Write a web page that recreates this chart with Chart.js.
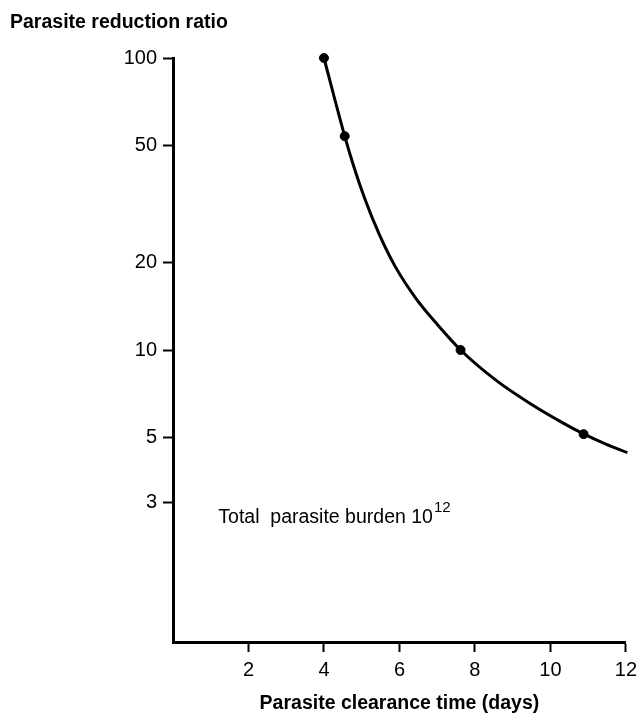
<!DOCTYPE html>
<html>
<head>
<meta charset="utf-8">
<script src="https://cdn.jsdelivr.net/npm/chart.js@4.4.1/dist/chart.umd.min.js"></script>
<style>
  html, body { margin: 0; padding: 0; background: #fff; }
  canvas { display: block; }
</style>
</head>
<body>
<canvas id="chart" width="643" height="715"></canvas>
<script>
// measured points: clearance time (days) vs reduction ratio
const measuredDays = [4, 4.55, 7.62, 10.88];
const measuredRatio = [100, 54, 10, 5.15];

// the fitted curve, read along its length
const curveDays = [4, 4.55, 4.78, 5.07, 5.46, 5.89, 6.44, 7.01, 7.62, 8.59, 9.46, 10.34, 10.88, 11.47, 12.04];
const curveRatio = [100, 54, 42.9, 33.3, 25.0, 19.3, 15.0, 12.2, 10, 7.82, 6.56, 5.62, 5.16, 4.76, 4.45];

const yTicks = [100, 50, 20, 10, 5, 3];
const xTicks = [2, 4, 6, 8, 10, 12];

const FONT = '"Liberation Sans", Arial, Helvetica, sans-serif';

const toPoints = (xs, ys) => xs.map((x, i) => ({ x: x, y: ys[i] }));

// free text: y-axis heading at top left and the burden note inside the plot
const textPlugin = {
  id: 'textPlugin',
  afterDraw(chart) {
    const ctx = chart.ctx;
    const { x, y } = chart.scales;
    ctx.save();
    ctx.fillStyle = '#000';
    ctx.textAlign = 'left';
    ctx.textBaseline = 'alphabetic';

    ctx.font = 'bold 19.5px ' + FONT;
    ctx.fillText('Parasite reduction ratio', 10, 28);

    const nx = x.getPixelForValue(1.2);
    const ny = y.getPixelForValue(2.55);
    ctx.font = '19.5px ' + FONT;
    const main = 'Total  parasite burden 10';
    ctx.fillText(main, nx, ny);
    const w = ctx.measureText(main).width;
    ctx.font = '15px ' + FONT;
    ctx.fillText('12', nx + w + 1, ny - 11);
    ctx.restore();
  }
};

new Chart(document.getElementById('chart'), {
  type: 'scatter',
  data: {
    datasets: [{
      type: 'line',
      data: toPoints(curveDays, curveRatio),
      borderColor: '#000',
      borderWidth: 3,
      pointRadius: 0,
      cubicInterpolationMode: 'monotone',
      clip: false,
      order: 2
    }, {
      data: toPoints(measuredDays, measuredRatio),
      backgroundColor: '#000',
      borderColor: '#000',
      pointRadius: 4.5,
      clip: false,
      order: 1
    }]
  },
  options: {
    responsive: false,
    animation: false,
    layout: {
      padding: { top: 58, right: 13, left: 0, bottom: 0 }
    },
    scales: {
      x: {
        type: 'linear',
        min: 0,
        max: 12,
        afterBuildTicks: scale => {
          scale.ticks = xTicks.map(v => ({ value: v }));
        },
        afterFit: scale => {
          scale.height = 73;
        },
        grid: {
          drawOnChartArea: false,
          tickLength: 10,
          tickWidth: 2,
          tickColor: '#000'
        },
        border: { display: true, color: '#000', width: 3 },
        ticks: {
          color: '#000',
          padding: 6,
          maxRotation: 0,
          font: { family: FONT, size: 20 }
        },
        title: {
          display: true,
          text: 'Parasite clearance time (days)',
          color: '#000',
          padding: { top: 0, bottom: 0 },
          font: { family: FONT, size: 19.5, weight: 'bold' }
        }
      },
      y: {
        type: 'logarithmic',
        min: 1,
        max: 100,
        afterBuildTicks: scale => {
          scale.ticks = yTicks.map(v => ({ value: v }));
        },
        afterFit: scale => {
          scale.width = 173;
        },
        grid: {
          drawOnChartArea: false,
          tickLength: 10,
          tickWidth: 2,
          tickColor: '#000'
        },
        border: { display: true, color: '#000', width: 3 },
        ticks: {
          color: '#000',
          padding: 6,
          font: { family: FONT, size: 20 },
          callback: v => String(v)
        }
      }
    },
    plugins: {
      legend: { display: false },
      tooltip: { enabled: false }
    }
  },
  plugins: [textPlugin]
});
</script>
</body>
</html>
